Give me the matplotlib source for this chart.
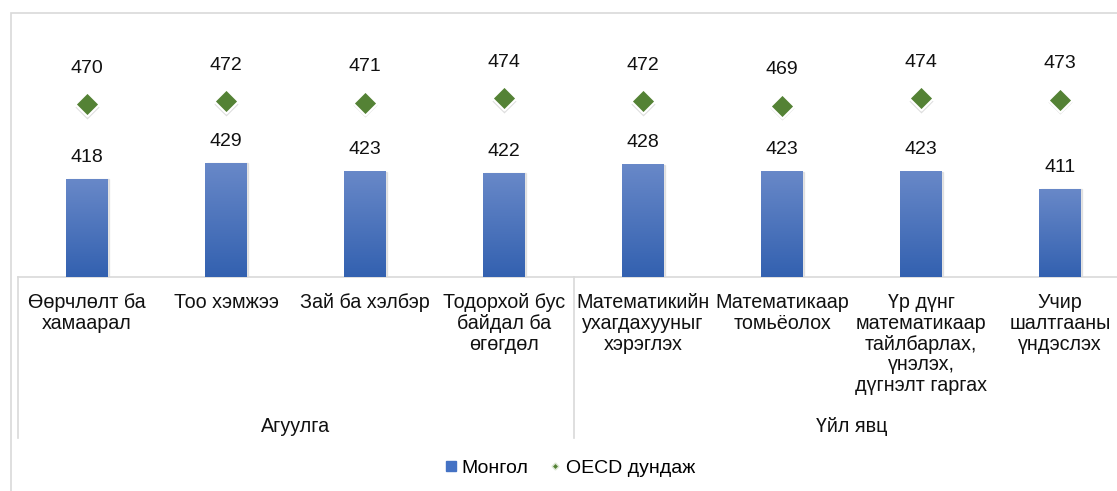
import numpy as np
import matplotlib.pyplot as plt
from matplotlib.patches import Rectangle
from matplotlib.lines import Line2D
import matplotlib.transforms as mtransforms

plt.rcParams['font.family'] = ['Liberation Sans', 'DejaVu Sans']

categories = ['Өөрчлөлт ба\nхамаарал', 'Тоо хэмжээ', 'Зай ба хэлбэр',
              'Тодорхой бус\nбайдал ба\nөгөгдөл', 'Математикийн\nухагдахууныг\nхэрэглэх',
              'Математикаар\nтомьёолох', 'Үр дүнг\nматематикаар\nтайлбарлах,\nүнэлэх,\nдүгнэлт гаргах',
              'Учир\nшалтгааны\nүндэслэх']
mongol = [418, 429, 423, 422, 428, 423, 423, 411]
oecd = [470, 472, 471, 474, 472, 469, 474, 473]
groups = ['Агуулга', 'Үйл явц']
group_sizes = [4, 4]

W, H = 1117, 491
fig = plt.figure(figsize=(W / 100, H / 100), dpi=100)

# outer chart frame (cropped on the right and bottom)
fig.patches.append(Rectangle((11 / W, -0.1), 1.2, (H - 13) / H + 0.1, transform=fig.transFigure,
                             fill=False, edgecolor='#D9D9D9', linewidth=1.2))

base_px = 277
px_per_unit = 1.44
ymin, ymax = 350, 500
ax_h = (ymax - ymin) * px_per_unit
step = 139
left = 17.5
ax = fig.add_axes([left / W, (H - base_px) / H, step * len(categories) / W, ax_h / H])
for s in ax.spines.values():
    s.set_visible(False)
ax.set_xticks([])
ax.set_yticks([])
ax.axhline(ymin, color='#D9D9D9', linewidth=1.2, clip_on=False)

x = np.arange(len(categories))
bw = 0.30
grad = np.linspace(0, 1, 100).reshape(-1, 1)
cmap = plt.matplotlib.colors.LinearSegmentedColormap.from_list('g', ['#3361B0', '#6888C8'])
for xi, v in zip(x, mongol):
    # soft shadow
    ax.add_patch(Rectangle((xi - bw / 2 + 0.01, ymin), bw, v - ymin, color='#BBBBBB', alpha=0.35, zorder=1))
    ax.imshow(grad, extent=(xi - bw / 2, xi + bw / 2, ymin, v), origin='lower', cmap=cmap,
              aspect='auto', zorder=2)
    ax.annotate(str(v), (xi, v), xytext=(0, 22), textcoords='offset pixels', ha='center',
                va='center', fontsize=14, color='#111111')
ax.set_xlim(-0.5, len(categories) - 0.5)
ax.set_ylim(ymin, ymax)

ax.scatter(x, np.array(oecd) - 1.6, marker='D', s=150, color='#C8C8C8', alpha=0.6, zorder=3, linewidths=0)
ax.scatter(x, oecd, marker='D', s=150, color='#548235', edgecolors='white', linewidths=1.5, zorder=4)
for xi, v in zip(x, oecd):
    ax.annotate(str(v), (xi, v), xytext=(0, 36), textcoords='offset pixels', ha='center',
                va='center', fontsize=14, color='#111111')

trans = mtransforms.blended_transform_factory(ax.transData, ax.transAxes)


def ay(py):
    return (base_px - py) / ax_h


for xi, lab in zip(x, categories):
    ax.text(xi, ay(293), lab, transform=trans, ha='center', va='top', fontsize=14.2,
            linespacing=1.12, color='#111111')

# group separators and labels
start = 0
bounds = [-0.5]
for g, n in zip(groups, group_sizes):
    bounds.append(start + n - 0.5)
    ax.text(start + (n - 1) / 2, ay(427), g, transform=trans, ha='center', va='center',
            fontsize=14.2, color='#111111')
    start += n
for b in bounds[:-1]:
    ax.plot([b, b], [0, ay(438)], transform=trans, color='#D9D9D9', linewidth=1.2, clip_on=False)

handles = [Line2D([], [], marker='s', color='#4472C4', linestyle='none', markersize=7.2),
           Line2D([], [], marker='D', color='#548235', markeredgecolor='#DDE8D5',
                  linestyle='none', markersize=3.5)]
fig.legend(handles, ['Монгол', 'OECD дундаж'], loc='center', bbox_to_anchor=(569 / W, 23 / H),
           ncol=2, frameon=False, fontsize=14, handlelength=0.8, handletextpad=0.15,
           columnspacing=1.0)

fig.savefig('out.png', dpi=100)
